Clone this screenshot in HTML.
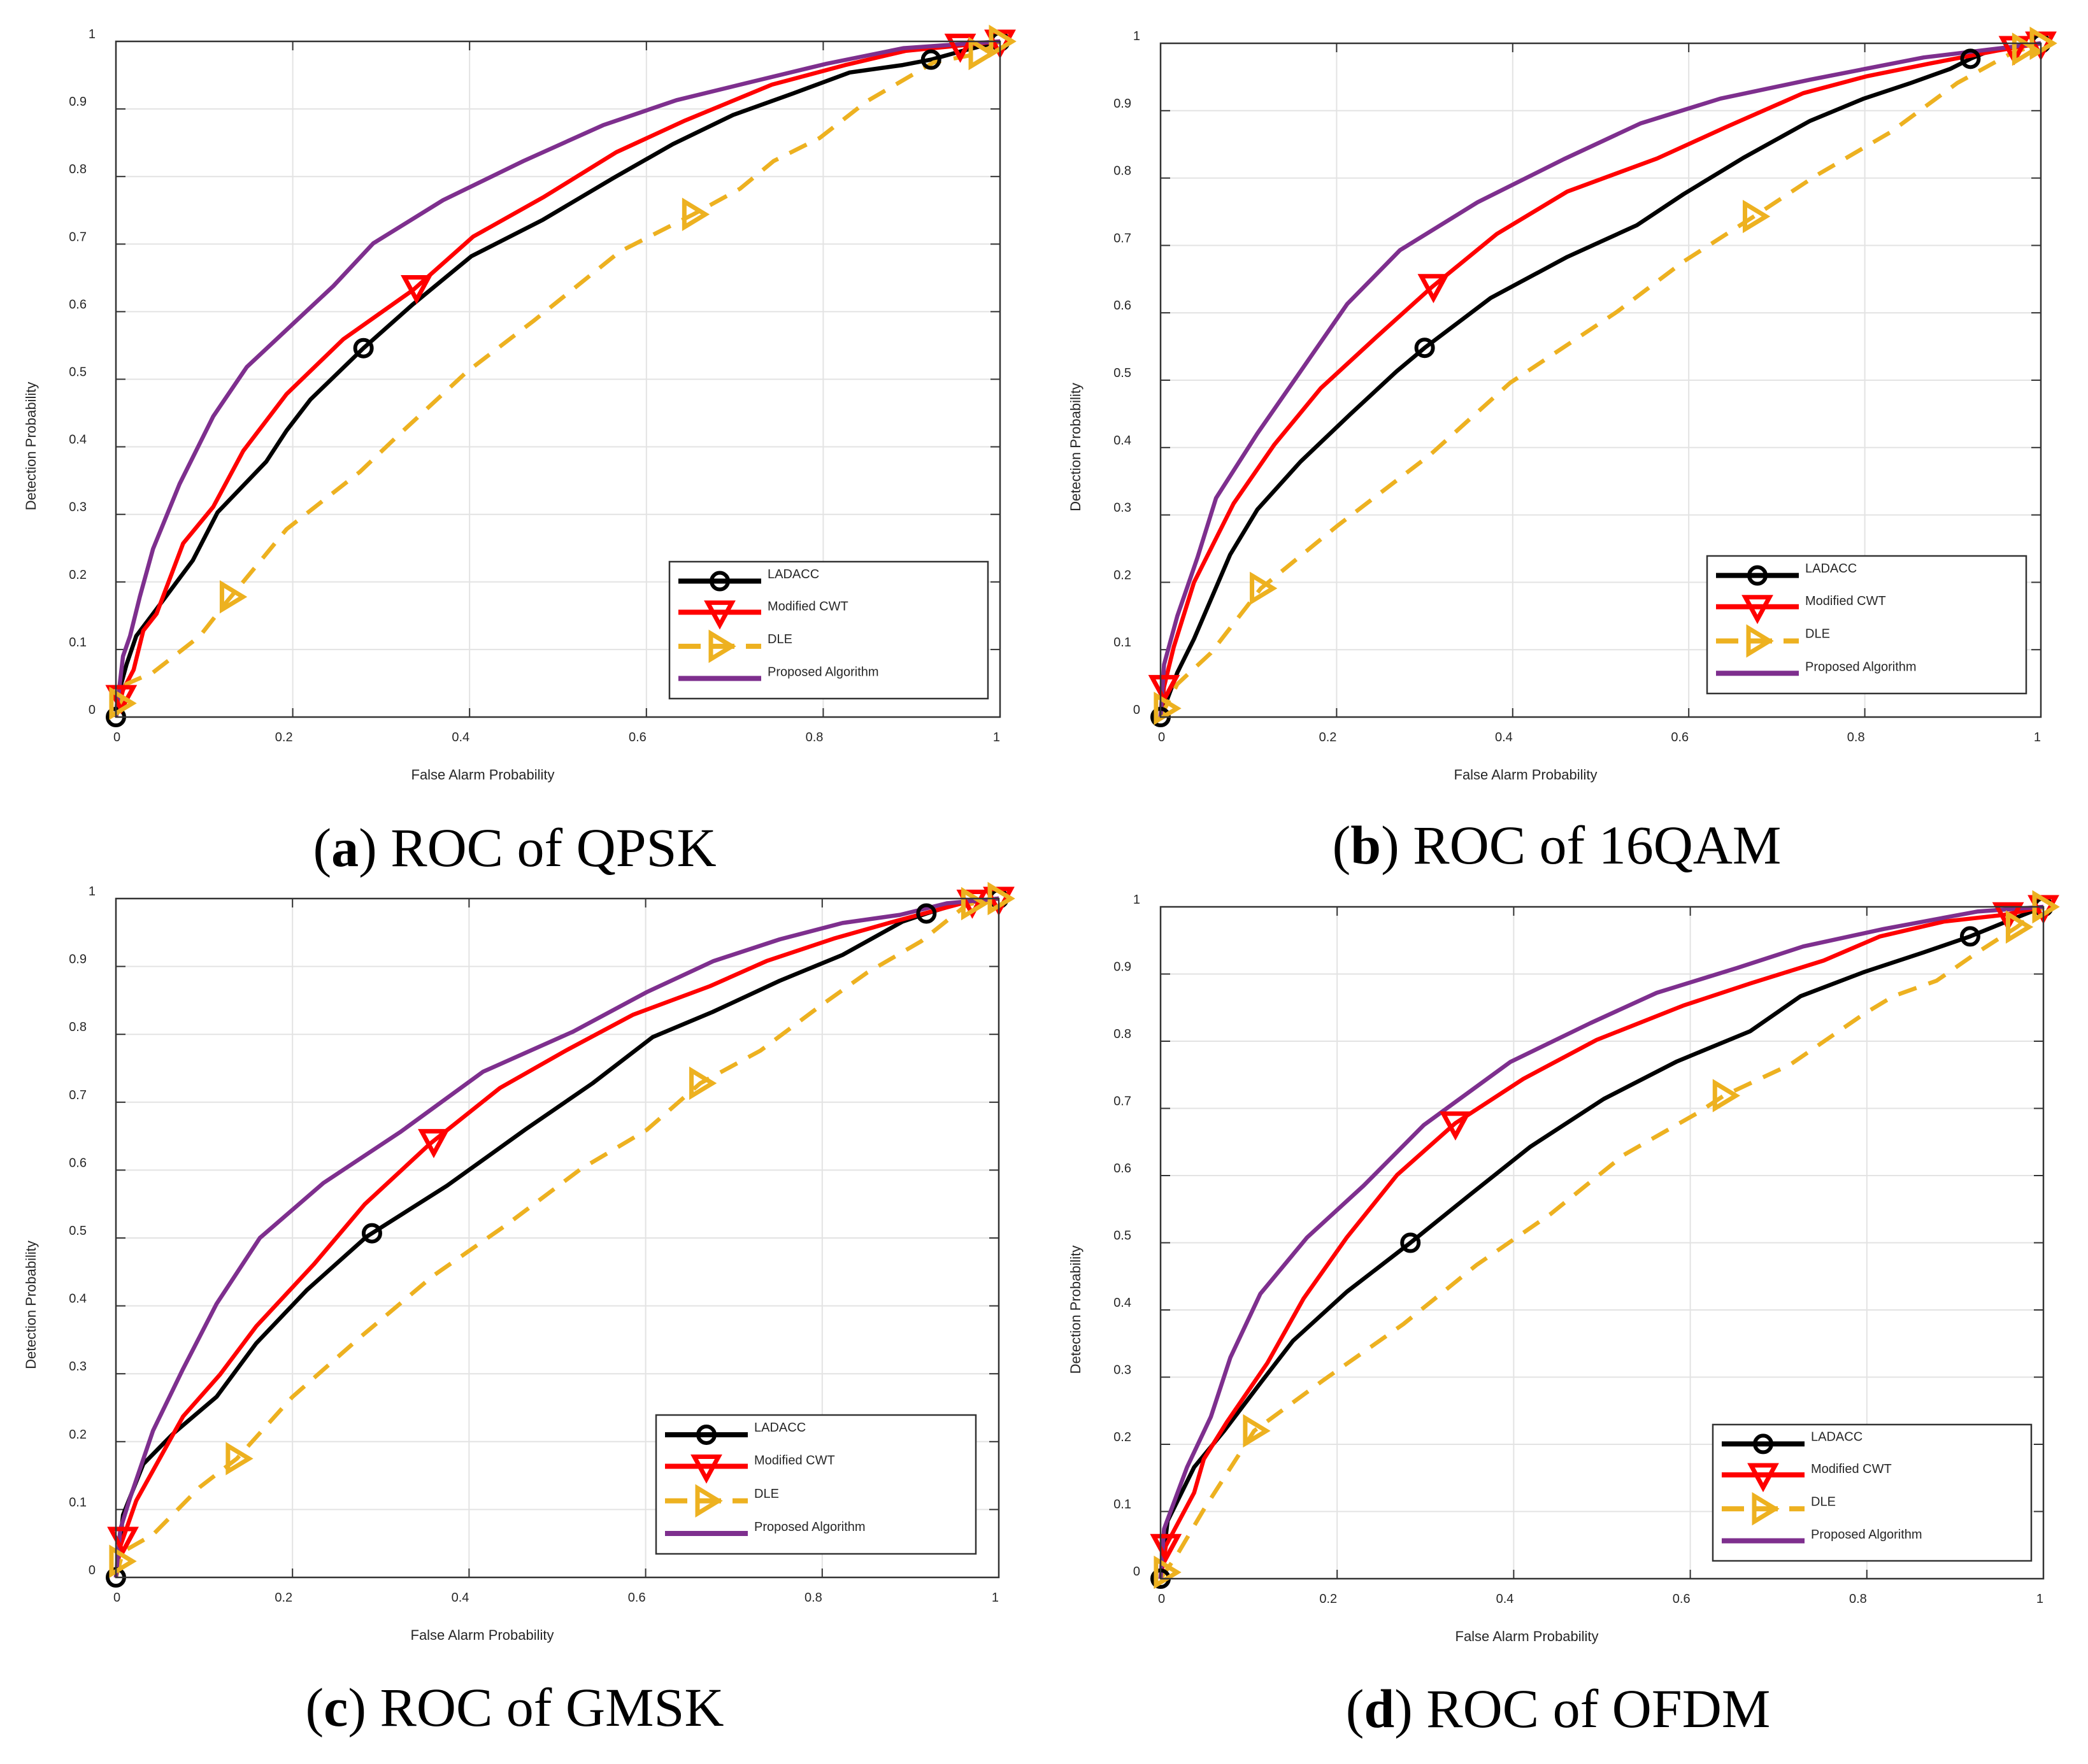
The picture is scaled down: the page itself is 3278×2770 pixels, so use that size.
<!DOCTYPE html>
<html><head><meta charset="utf-8"><style>
html,body{margin:0;padding:0;background:#fff;}
svg{display:block;}
text{font-family:"Liberation Sans",Arial,sans-serif;fill:#262626;}
.cap{font-family:"Liberation Serif","Times New Roman",serif;fill:#000;font-size:86px;}
</style></head><body>
<svg id="fig" width="3278" height="2770" viewBox="0 0 3278 2770" xmlns="http://www.w3.org/2000/svg"></svg>
<script>
// ---- data (x = false alarm probability, y = detection probability) ----
const seriesNames = ["LADACC","Modified CWT","DLE","Proposed Algorithm"];
const xTicks = [0,0.2,0.4,0.6,0.8,1];
const xTickLabels = ["0","0.2","0.4","0.6","0.8","1"];
const yTicks = [0,0.1,0.2,0.3,0.4,0.5,0.6,0.7,0.8,0.9,1];
const yTickLabels = ["0","0.1","0.2","0.3","0.4","0.5","0.6","0.7","0.8","0.9","1"];

// Panel a - QPSK
const qpskLadaccX = [0,0.002,0.012,0.023,0.042,0.087,0.115,0.17,0.193,0.22,0.28,0.336,0.402,0.483,0.563,0.63,0.698,0.766,0.83,0.89,0.922,0.955,1];
const qpskLadaccY = [0,0.03,0.078,0.12,0.153,0.232,0.303,0.378,0.424,0.47,0.546,0.611,0.682,0.736,0.798,0.848,0.891,0.923,0.954,0.965,0.973,0.985,1];
const qpskCwtX = [0,0.008,0.02,0.031,0.046,0.076,0.11,0.144,0.193,0.257,0.336,0.404,0.483,0.566,0.644,0.742,0.825,0.893,0.955,1];
const qpskCwtY = [0,0.04,0.07,0.128,0.153,0.257,0.311,0.394,0.478,0.559,0.632,0.711,0.769,0.836,0.883,0.936,0.965,0.986,0.994,1];
const qpskDleX = [0,0.012,0.042,0.095,0.125,0.193,0.276,0.321,0.397,0.472,0.57,0.653,0.706,0.744,0.796,0.849,0.925,0.977,1];
const qpskDleY = [0,0.049,0.066,0.12,0.17,0.278,0.363,0.419,0.511,0.586,0.689,0.744,0.782,0.823,0.857,0.911,0.969,0.982,1];
const qpskPropX = [0,0.008,0.016,0.027,0.042,0.072,0.11,0.148,0.197,0.246,0.291,0.37,0.461,0.551,0.634,0.725,0.804,0.891,1];
const qpskPropY = [0,0.09,0.12,0.178,0.249,0.345,0.445,0.518,0.578,0.638,0.701,0.765,0.823,0.876,0.913,0.942,0.967,0.99,1];

// Panel b - 16QAM
const qamLadaccX = [0,0.019,0.038,0.079,0.11,0.159,0.216,0.268,0.3,0.375,0.462,0.541,0.594,0.662,0.738,0.799,0.852,0.897,0.92,0.942,1];
const qamLadaccY = [0,0.066,0.116,0.241,0.308,0.379,0.45,0.513,0.548,0.622,0.683,0.73,0.776,0.83,0.885,0.918,0.941,0.962,0.977,0.989,1];
const qamCwtX = [0,0.004,0.015,0.038,0.083,0.129,0.182,0.246,0.308,0.382,0.462,0.564,0.643,0.73,0.802,0.874,0.95,1];
const qamCwtY = [0,0.045,0.104,0.2,0.317,0.404,0.488,0.565,0.638,0.717,0.78,0.829,0.876,0.926,0.951,0.97,0.989,1];
const qamDleX = [0,0.019,0.057,0.114,0.2,0.306,0.397,0.518,0.594,0.674,0.745,0.829,0.905,0.966,1];
const qamDleY = [0,0.049,0.095,0.191,0.283,0.389,0.496,0.601,0.676,0.743,0.804,0.868,0.941,0.985,1];
const qamPropX = [0,0.004,0.019,0.042,0.063,0.11,0.159,0.212,0.272,0.36,0.458,0.545,0.636,0.738,0.867,1];
const qamPropY = [0,0.078,0.15,0.237,0.325,0.421,0.513,0.613,0.693,0.764,0.828,0.881,0.918,0.946,0.979,1];

// Panel c - GMSK
const gmskLadaccX = [0,0.008,0.031,0.065,0.114,0.159,0.216,0.284,0.375,0.464,0.54,0.608,0.676,0.752,0.823,0.891,0.918,0.955,1];
const gmskLadaccY = [0,0.092,0.167,0.212,0.266,0.345,0.423,0.502,0.577,0.66,0.728,0.796,0.833,0.879,0.917,0.966,0.978,0.993,1];
const gmskCwtX = [0,0.005,0.023,0.076,0.118,0.159,0.224,0.282,0.356,0.435,0.511,0.586,0.673,0.737,0.813,0.881,0.964,1];
const gmskCwtY = [0,0.046,0.113,0.237,0.299,0.37,0.461,0.55,0.639,0.721,0.777,0.829,0.871,0.908,0.941,0.966,0.995,1];
const gmskDleX = [0,0.008,0.042,0.095,0.137,0.2,0.276,0.359,0.442,0.526,0.601,0.662,0.73,0.798,0.851,0.912,0.964,1];
const gmskDleY = [0,0.038,0.063,0.133,0.175,0.266,0.353,0.444,0.519,0.601,0.659,0.728,0.776,0.842,0.891,0.937,0.991,1];
const gmskPropX = [0,0.005,0.016,0.042,0.076,0.114,0.163,0.235,0.322,0.416,0.518,0.601,0.677,0.752,0.823,0.888,0.941,1];
const gmskPropY = [0,0.071,0.117,0.216,0.307,0.403,0.5,0.581,0.656,0.745,0.804,0.862,0.908,0.94,0.964,0.976,0.993,1];

// Panel d - OFDM
const ofdmLadaccX = [0,0.008,0.038,0.072,0.113,0.15,0.211,0.283,0.351,0.419,0.502,0.585,0.668,0.725,0.797,0.864,0.917,0.958,1];
const ofdmLadaccY = [0,0.086,0.166,0.22,0.291,0.354,0.427,0.5,0.572,0.643,0.714,0.77,0.815,0.867,0.903,0.932,0.956,0.978,1];
const ofdmCwtX = [0,0.006,0.038,0.049,0.075,0.121,0.162,0.211,0.268,0.334,0.411,0.494,0.592,0.668,0.751,0.815,0.887,0.955,1];
const ofdmCwtY = [0,0.049,0.128,0.178,0.233,0.321,0.417,0.508,0.601,0.678,0.744,0.802,0.853,0.886,0.92,0.956,0.978,0.988,1];
const ofdmDleX = [0,0.019,0.049,0.106,0.185,0.275,0.358,0.442,0.525,0.608,0.638,0.713,0.796,0.83,0.879,0.925,0.97,1];
const ofdmDleY = [0,0.036,0.103,0.22,0.296,0.379,0.467,0.543,0.631,0.693,0.719,0.765,0.84,0.867,0.89,0.932,0.97,1];
const ofdmPropX = [0,0.004,0.03,0.057,0.079,0.113,0.166,0.23,0.298,0.396,0.487,0.562,0.653,0.728,0.819,0.925,1];
const ofdmPropY = [0,0.074,0.166,0.241,0.329,0.424,0.508,0.585,0.675,0.769,0.827,0.872,0.909,0.941,0.967,0.993,1];

// marker x positions per series
const qpskMarkX = [[0,0.28,0.922,1],[0.006,0.34,0.955,1],[0.005,0.13,0.653,0.977,1]];
const qamMarkX  = [[0,0.3,0.92,1],[0.004,0.31,0.97,1],[0.005,0.114,0.674,0.98,1]];
const gmskMarkX = [[0,0.29,0.918,1],[0.008,0.36,0.97,1],[0.005,0.137,0.662,0.97,1]];
const ofdmMarkX = [[0,0.283,0.917,1],[0.006,0.334,0.96,1],[0.005,0.106,0.638,0.97,1]];

const panels = [
 {id:"qpsk",cap:["a","ROC of QPSK"],L:182,R:1570,T:65,B:1126,leg:[1051,882,1551,1097],capY:1330,capX:808,
  s:[[qpskLadaccX,qpskLadaccY],[qpskCwtX,qpskCwtY],[qpskDleX,qpskDleY],[qpskPropX,qpskPropY]],m:qpskMarkX},
 {id:"16qam",cap:["b","ROC of 16QAM"],L:1822,R:3204,T:68,B:1126,leg:[2680,873,3181,1089],capY:1326,capX:2444,
  s:[[qamLadaccX,qamLadaccY],[qamCwtX,qamCwtY],[qamDleX,qamDleY],[qamPropX,qamPropY]],m:qamMarkX},
 {id:"gmsk",cap:["c","ROC of GMSK"],L:182,R:1568,T:1411,B:2477,leg:[1030,2222,1532,2440],capY:2680,capX:808,
  s:[[gmskLadaccX,gmskLadaccY],[gmskCwtX,gmskCwtY],[gmskDleX,gmskDleY],[gmskPropX,gmskPropY]],m:gmskMarkX},
 {id:"ofdm",cap:["d","ROC of OFDM"],L:1822,R:3208,T:1424,B:2479,leg:[2689,2237,3189,2451],capY:2682,capX:2446,
  s:[[ofdmLadaccX,ofdmLadaccY],[ofdmCwtX,ofdmCwtY],[ofdmDleX,ofdmDleY],[ofdmPropX,ofdmPropY]],m:ofdmMarkX}
];
const colors = ["#000000","#ff0000","#EDB120","#7E2F8E"];
const NS = "http://www.w3.org/2000/svg";
const svg = document.getElementById("fig");
function mk(tag, attrs, parent){
  const e = document.createElementNS(NS, tag);
  for (const k in attrs) e.setAttribute(k, attrs[k]);
  (parent||svg).appendChild(e); return e;
}
function interp(xs, ys, x){
  for (let i=1;i<xs.length;i++){ if (x<=xs[i]){ const t=(x-xs[i-1])/((xs[i]-xs[i-1])||1); return ys[i-1]+t*(ys[i]-ys[i-1]); } }
  return ys[ys.length-1];
}
function marker(g, k, cx, cy){
  let e;
  if (k===0){ e=mk("circle",{cx:cx,cy:cy,r:13,fill:"none",stroke:colors[0],"stroke-width":6},g);  }
  else if (k===1){ e=mk("polygon",{points:`${cx-19},${cy-15} ${cx+19},${cy-15} ${cx},${cy+20}`,fill:"none",stroke:colors[1],"stroke-width":7,"stroke-linejoin":"miter"},g);  }
  else { e=mk("polygon",{points:`${cx-14},${cy-20} ${cx+19},${cy} ${cx-14},${cy+20}`,fill:"none",stroke:colors[2],"stroke-width":7},g);  }
  
}
panels.forEach(p=>{
  const g = mk("g",{});
  
  
  const sx = v=>p.L+v*(p.R-p.L), sy = v=>p.B-v*(p.B-p.T);
  xTicks.forEach((v,i)=>{
    if(i>0&&i<xTicks.length-1){ const l=mk("line",{x1:sx(v),x2:sx(v),y1:p.T,y2:p.B,stroke:"#e3e3e3","stroke-width":2},g);   }
  });
  yTicks.forEach((v,i)=>{
    if(i>0&&i<yTicks.length-1){ const l=mk("line",{x1:p.L,x2:p.R,y1:sy(v),y2:sy(v),stroke:"#e3e3e3","stroke-width":2},g);   }
  });
  xTicks.forEach(v=>{
    mk("line",{x1:sx(v),x2:sx(v),y1:p.B,y2:p.B-14,stroke:"#333","stroke-width":2},g);
    mk("line",{x1:sx(v),x2:sx(v),y1:p.T,y2:p.T+14,stroke:"#333","stroke-width":2},g);
  });
  yTicks.forEach(v=>{
    mk("line",{x1:p.L,x2:p.L+15,y1:sy(v),y2:sy(v),stroke:"#333","stroke-width":2},g);
    mk("line",{x1:p.R,x2:p.R-15,y1:sy(v),y2:sy(v),stroke:"#333","stroke-width":2},g);
  });
  xTicks.forEach((v,i)=>{
    const t=mk("text",{x:sx(v)+(i===0?-4:0),y:p.B+38,"font-size":20,"text-anchor":i===0?"start":"end"},g);
    t.textContent=xTickLabels[i];
     
  });
  yTicks.forEach((v,i)=>{
    const isInt = (i===0||i===yTicks.length-1);
    const t=mk("text",{x:isInt?p.L-32:p.L-46,y:sy(v)-5,"font-size":20,"text-anchor":"end"},g);
    t.textContent=yTickLabels[i];
     
  });
  p.s.forEach((s,k)=>{
    const pts = s[0].map((x,i)=>sx(x).toFixed(1)+","+sy(s[1][i]).toFixed(1)).join(" ");
    const a={points:pts,fill:"none",stroke:colors[k],"stroke-width":6.5,"stroke-linejoin":"round"};
    if(k===2){a["stroke-dasharray"]="30,20";}
    const pl=mk("polyline",a,g);
    
    
  });
  p.m.forEach((mx,k)=>{
    mx.forEach(x=>marker(g,k,sx(x),sy(interp(p.s[k][0],p.s[k][1],x))));
  });
  const box=mk("rect",{x:p.L,y:p.T,width:p.R-p.L,height:p.B-p.T,fill:"none",stroke:"#333","stroke-width":2.5},g);
   
  const xt=mk("text",{x:(p.L+p.R)/2-118,y:p.B+98,"font-size":22,"text-anchor":"middle"},g);
  xt.textContent="False Alarm Probability";
   
  const yc=(p.T+p.B)/2+105, yx=p.L-126;
  const yt=mk("text",{x:yx,y:yc,"font-size":22,"text-anchor":"middle",transform:`rotate(-90 ${yx} ${yc})`},g);
  yt.textContent="Detection Probability";
   
  const [lx0,ly0,lx1,ly1]=p.leg, lh=ly1-ly0;
  const lg=mk("g",{},g);
   
  mk("rect",{x:lx0,y:ly0,width:lx1-lx0,height:lh,fill:"#fff",stroke:"#333","stroke-width":2.5},lg);
  const rowY=[0.142,0.369,0.618,0.853], txtY=[0.12,0.356,0.596,0.836];
  seriesNames.forEach((n,k)=>{
    const y=ly0+rowY[k]*lh, a={x1:lx0+14,x2:lx0+144,y1:y,y2:y,stroke:colors[k],"stroke-width":8};
    if(k===2){a["stroke-dasharray"]="35,18";}
    const e=mk("g",{},lg);
     
    mk("line",a,e);
    if(k<3) marker(e,k,lx0+79,y);
    const t=mk("text",{x:lx0+154,y:ly0+txtY[k]*lh,"font-size":20,fill:"#000"},e);
    t.textContent=n;
  });
  const c=mk("text",{x:p.capX,y:p.capY+30,"text-anchor":"middle",class:"cap"});
   
  const t1=mk("tspan",{},c); t1.textContent="(";
  const t2=mk("tspan",{"font-weight":"bold"},c); t2.textContent=p.cap[0];
  const t3=mk("tspan",{},c); t3.textContent=") "+p.cap[1];
});
</script>
</body></html>
